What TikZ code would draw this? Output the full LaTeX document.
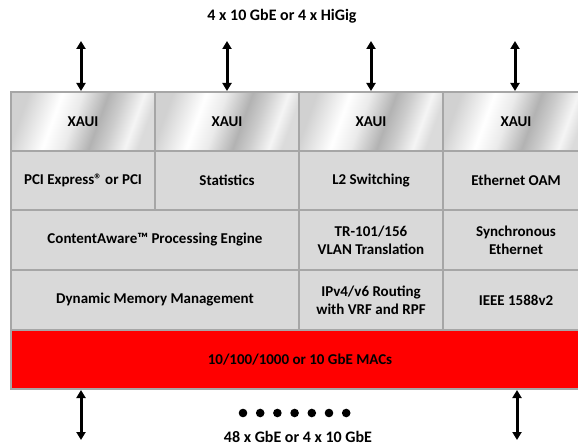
\documentclass[tikz,border=0pt]{standalone}
\usepackage{fontspec}
\setmainfont{Carlito}
\usetikzlibrary{arrows.meta}

\definecolor{gridline}{HTML}{A6A6A6}
\definecolor{cellgray}{HTML}{D9D9D9}
\definecolor{macred}{HTML}{FF0000}
\pgfdeclarehorizontalshading{metal}{100bp}{color(0bp)=(black!18); color(25bp)=(black!18);
  color(38bp)=(white); color(46bp)=(black!8); color(56bp)=(black!30); color(62bp)=(black!20);
  color(70bp)=(black!4); color(75bp)=(black!14); color(100bp)=(black!14)}

\begin{document}
\begin{tikzpicture}[x=1pt, y=-1pt,
					font=\bfseries\fontsize{15}{18}\selectfont,
					cell/.style={draw=gridline, line width=2pt, fill=cellgray,
						anchor=north west, inner sep=0pt, align=center},
					xaui/.style={cell, shade, shading=metal, shading angle=-20},
					mac/.style={cell, fill=macred},
					port label/.style={font=\bfseries\fontsize{16}{19}\selectfont},
					bus/.style={{Triangle[width=9pt,length=8pt]}-{Triangle[width=9pt,length=8pt]},
						line width=3pt}]

  \clip (0,0) rectangle (578,446);

  % interfaces on top
  \node[xaui, minimum width=144pt, minimum height=59pt] (x1) at (10,91) {XAUI};
  \node[xaui, minimum width=144pt, minimum height=59pt] (x2) at (154,91) {XAUI};
  \node[xaui, minimum width=144pt, minimum height=59pt] (x3) at (298,91) {XAUI};
  \node[xaui, minimum width=146pt, minimum height=59pt] (x4) at (442,91) {XAUI};

  \node[cell, minimum width=144pt, minimum height=59pt] (pci) at (10,150) {PCI Express® or PCI};
  \node[cell, minimum width=144pt, minimum height=59pt] (stats) at (154,150) {Statistics};
  \node[cell, minimum width=144pt, minimum height=59pt] (l2) at (298,150) {L2 Switching};
  \node[cell, minimum width=146pt, minimum height=59pt] (oam) at (442,150) {Ethernet OAM};

  \node[cell, minimum width=288pt, minimum height=60pt] (cae) at (10,209) {ContentAware™ Processing Engine};
  \node[cell, minimum width=144pt, minimum height=60pt] (vlan) at (298,209) {TR-101/156\\VLAN Translation};
  \node[cell, minimum width=146pt, minimum height=60pt] (synce) at (442,209) {Synchronous\\Ethernet};

  \node[cell, minimum width=288pt, minimum height=60pt] (dmm) at (10,269) {Dynamic Memory Management};
  \node[cell, minimum width=144pt, minimum height=60pt] (route) at (298,269) {IPv4/v6 Routing\\with VRF and RPF};
  \node[cell, minimum width=146pt, minimum height=60pt] (ptp) at (442,269) {IEEE 1588v2};

  \node[mac, minimum width=578pt, minimum height=59pt] (macs) at (10,329) {10/100/1000 or 10 GbE MACs};

  % labels
  \node[port label] (toplbl) at (282,16) {4 x 10 GbE or 4 x HiGig};
  \node[port label] (botlbl) at (298,437) {48 x GbE or 4 x 10 GbE};

  \coordinate (t1) at (81,41);
  \coordinate (t2) at (227,41);
  \coordinate (t3) at (371,41);
  \coordinate (t4) at (515,41);
  \coordinate (b1) at (81,440);
  \coordinate (b2) at (517,440);

  \path[bus]
    (t1) edge (t1 |- x1.north)
    (t2) edge (t2 |- x2.north)
    (t3) edge (t3 |- x3.north)
    (t4) edge (t4 |- x4.north);
  \draw[bus] (b1 |- macs.south) -- (b1);
  \draw[bus] (b2 |- macs.south) -- (b2);

  \foreach \i in {0,...,6}
    \fill (243+17.2*\i,413) circle (4.3pt);
\end{tikzpicture}
\end{document}
